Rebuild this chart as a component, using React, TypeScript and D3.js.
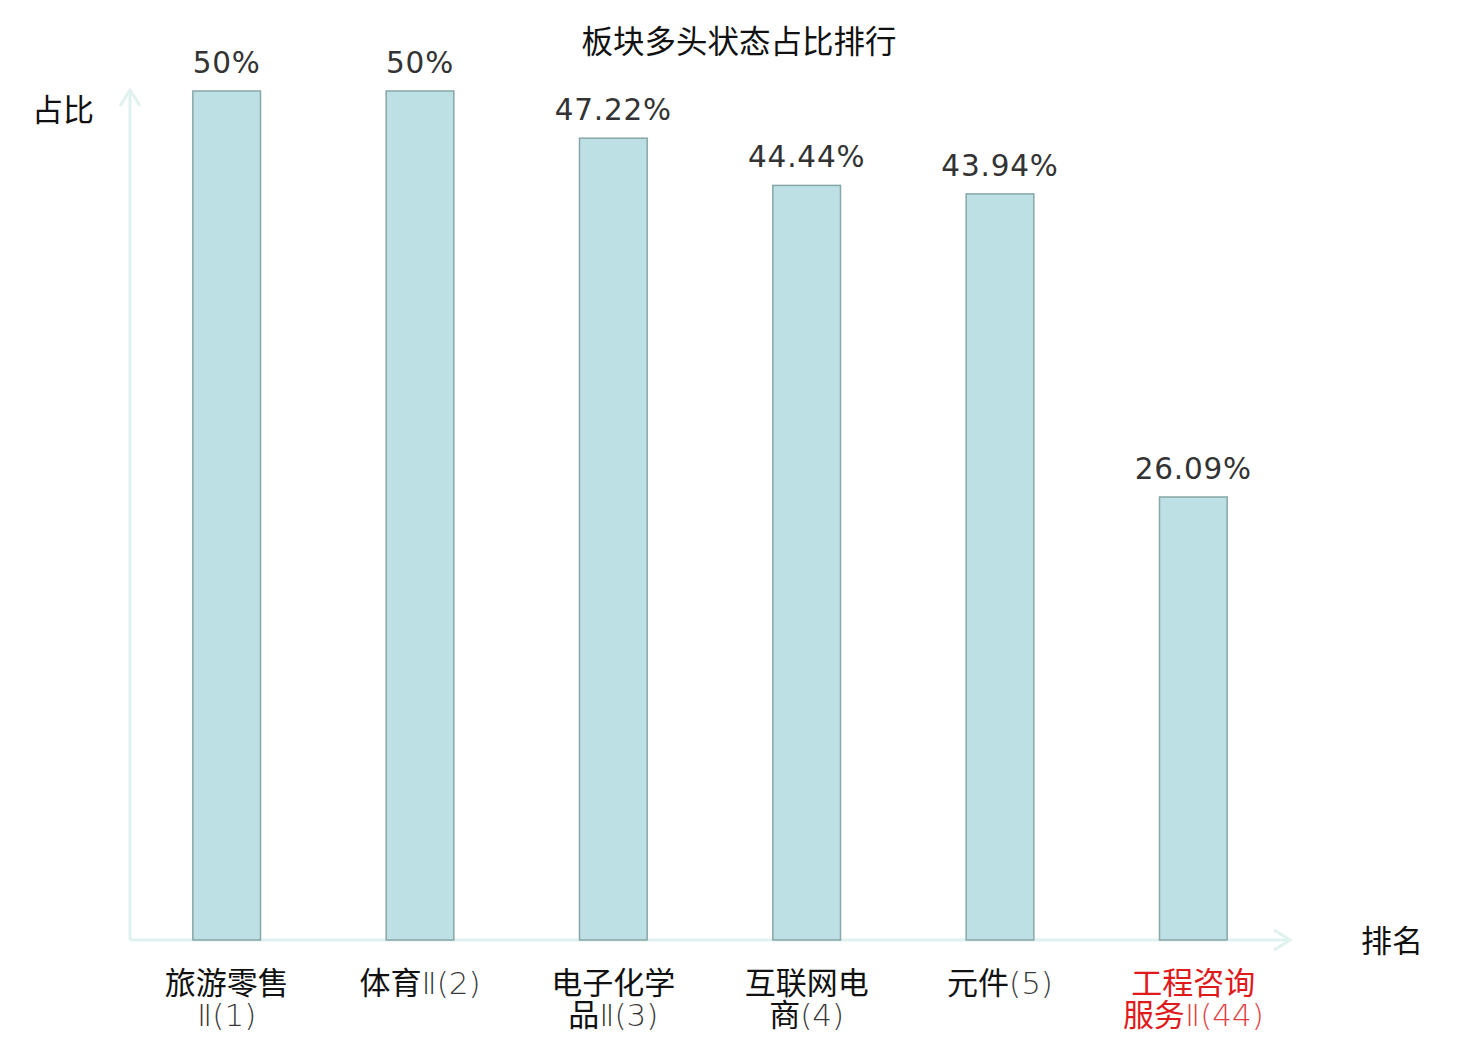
import React from "react";
import * as d3 from "d3";

const categories: string[][] = [
  ["旅游零售", "Ⅱ(1)"],
  ["体育Ⅱ(2)"],
  ["电子化学", "品Ⅱ(3)"],
  ["互联网电", "商(4)"],
  ["元件(5)"],
  ["工程咨询", "服务Ⅱ(44)"],
];
const values: number[] = [50, 50, 47.22, 44.44, 43.94, 26.09];
const valueLabels: string[] = ["50%", "50%", "47.22%", "44.44%", "43.94%", "26.09%"];
const highlighted: boolean[] = [false, false, false, false, false, true];

const W = 1480;
const H = 1040;
const FONT = "'DejaVu Sans', 'Noto Sans CJK SC', sans-serif";

function splitLine(s: string) {
  // split into CJK part and latin part for lighter latin rendering
  const parts: { t: string; latin: boolean }[] = [];
  for (const ch of s) {
    const latin = /[()0-9Ⅱ]/.test(ch);
    const last = parts[parts.length - 1];
    if (last && last.latin === latin) last.t += ch;
    else parts.push({ t: ch, latin });
  }
  return parts;
}

export default function App() {
  const x0 = 130;
  const x1 = 1290;
  const yBase = 940;
  const yTop = 91;
  const x = d3
    .scaleBand<number>()
    .domain(values.map((_, i) => i))
    .range([x0, x1])
    .paddingInner(0.65)
    .paddingOuter(0.325);
  const y = d3.scaleLinear().domain([0, 50]).range([yBase, yTop]);
  const axisColor = "#dff2ef";

  return (
    <svg
      width={W}
      height={H}
      style={{ position: "absolute", left: 0, top: 0, background: "#fff" }}
      fontFamily={FONT}
    >
      <text x={739} y={53} textAnchor="middle" fontSize={31.5} fill="#111">
        板块多头状态占比排行
      </text>
      <line x1={x0} y1={yBase} x2={x0} y2={90} stroke={axisColor} strokeWidth={3} />
      <polyline points={`${x0 - 10},${106} ${x0},${90} ${x0 + 10},${106}`} fill="none" stroke={axisColor} strokeWidth={3} />
      <line x1={x0} y1={yBase} x2={1290} y2={yBase} stroke={axisColor} strokeWidth={3} />
      <polyline points={`${1274},${yBase - 10} ${1290},${yBase} ${1274},${yBase + 10}`} fill="none" stroke={axisColor} strokeWidth={3} />
      <text x={63} y={121} textAnchor="middle" fontSize={31} fill="#111">占比</text>
      <text x={1392} y={952} textAnchor="middle" fontSize={31} fill="#111">排名</text>
      {values.map((v, i) => {
        const bx = x(i)!;
        const bw = x.bandwidth();
        const cx = bx + bw / 2;
        return (
          <g key={i}>
            <rect
              x={bx}
              y={y(v)}
              width={bw}
              height={yBase - y(v)}
              fill="#bce0e3"
              stroke="#88a6a8"
              strokeWidth={1.5}
            />
            <text x={cx} y={y(v) - 18} textAnchor="middle" fontSize={29.5} fill="#333" letterSpacing={0.8}>
              {valueLabels[i]}
            </text>
            {categories[i].map((line, j) => (
              <text
                key={j}
                x={cx}
                y={994 + j * 32}
                textAnchor="middle"
                fontSize={31}
                fill={highlighted[i] ? "#e0191b" : "#111"}
              >
                {splitLine(line).map((p, k) => (
                  <tspan key={k} fontWeight={p.latin ? 300 : 400} fillOpacity={p.latin ? 0.85 : 1}>
                    {p.t}
                  </tspan>
                ))}
              </text>
            ))}
          </g>
        );
      })}
    </svg>
  );
}
